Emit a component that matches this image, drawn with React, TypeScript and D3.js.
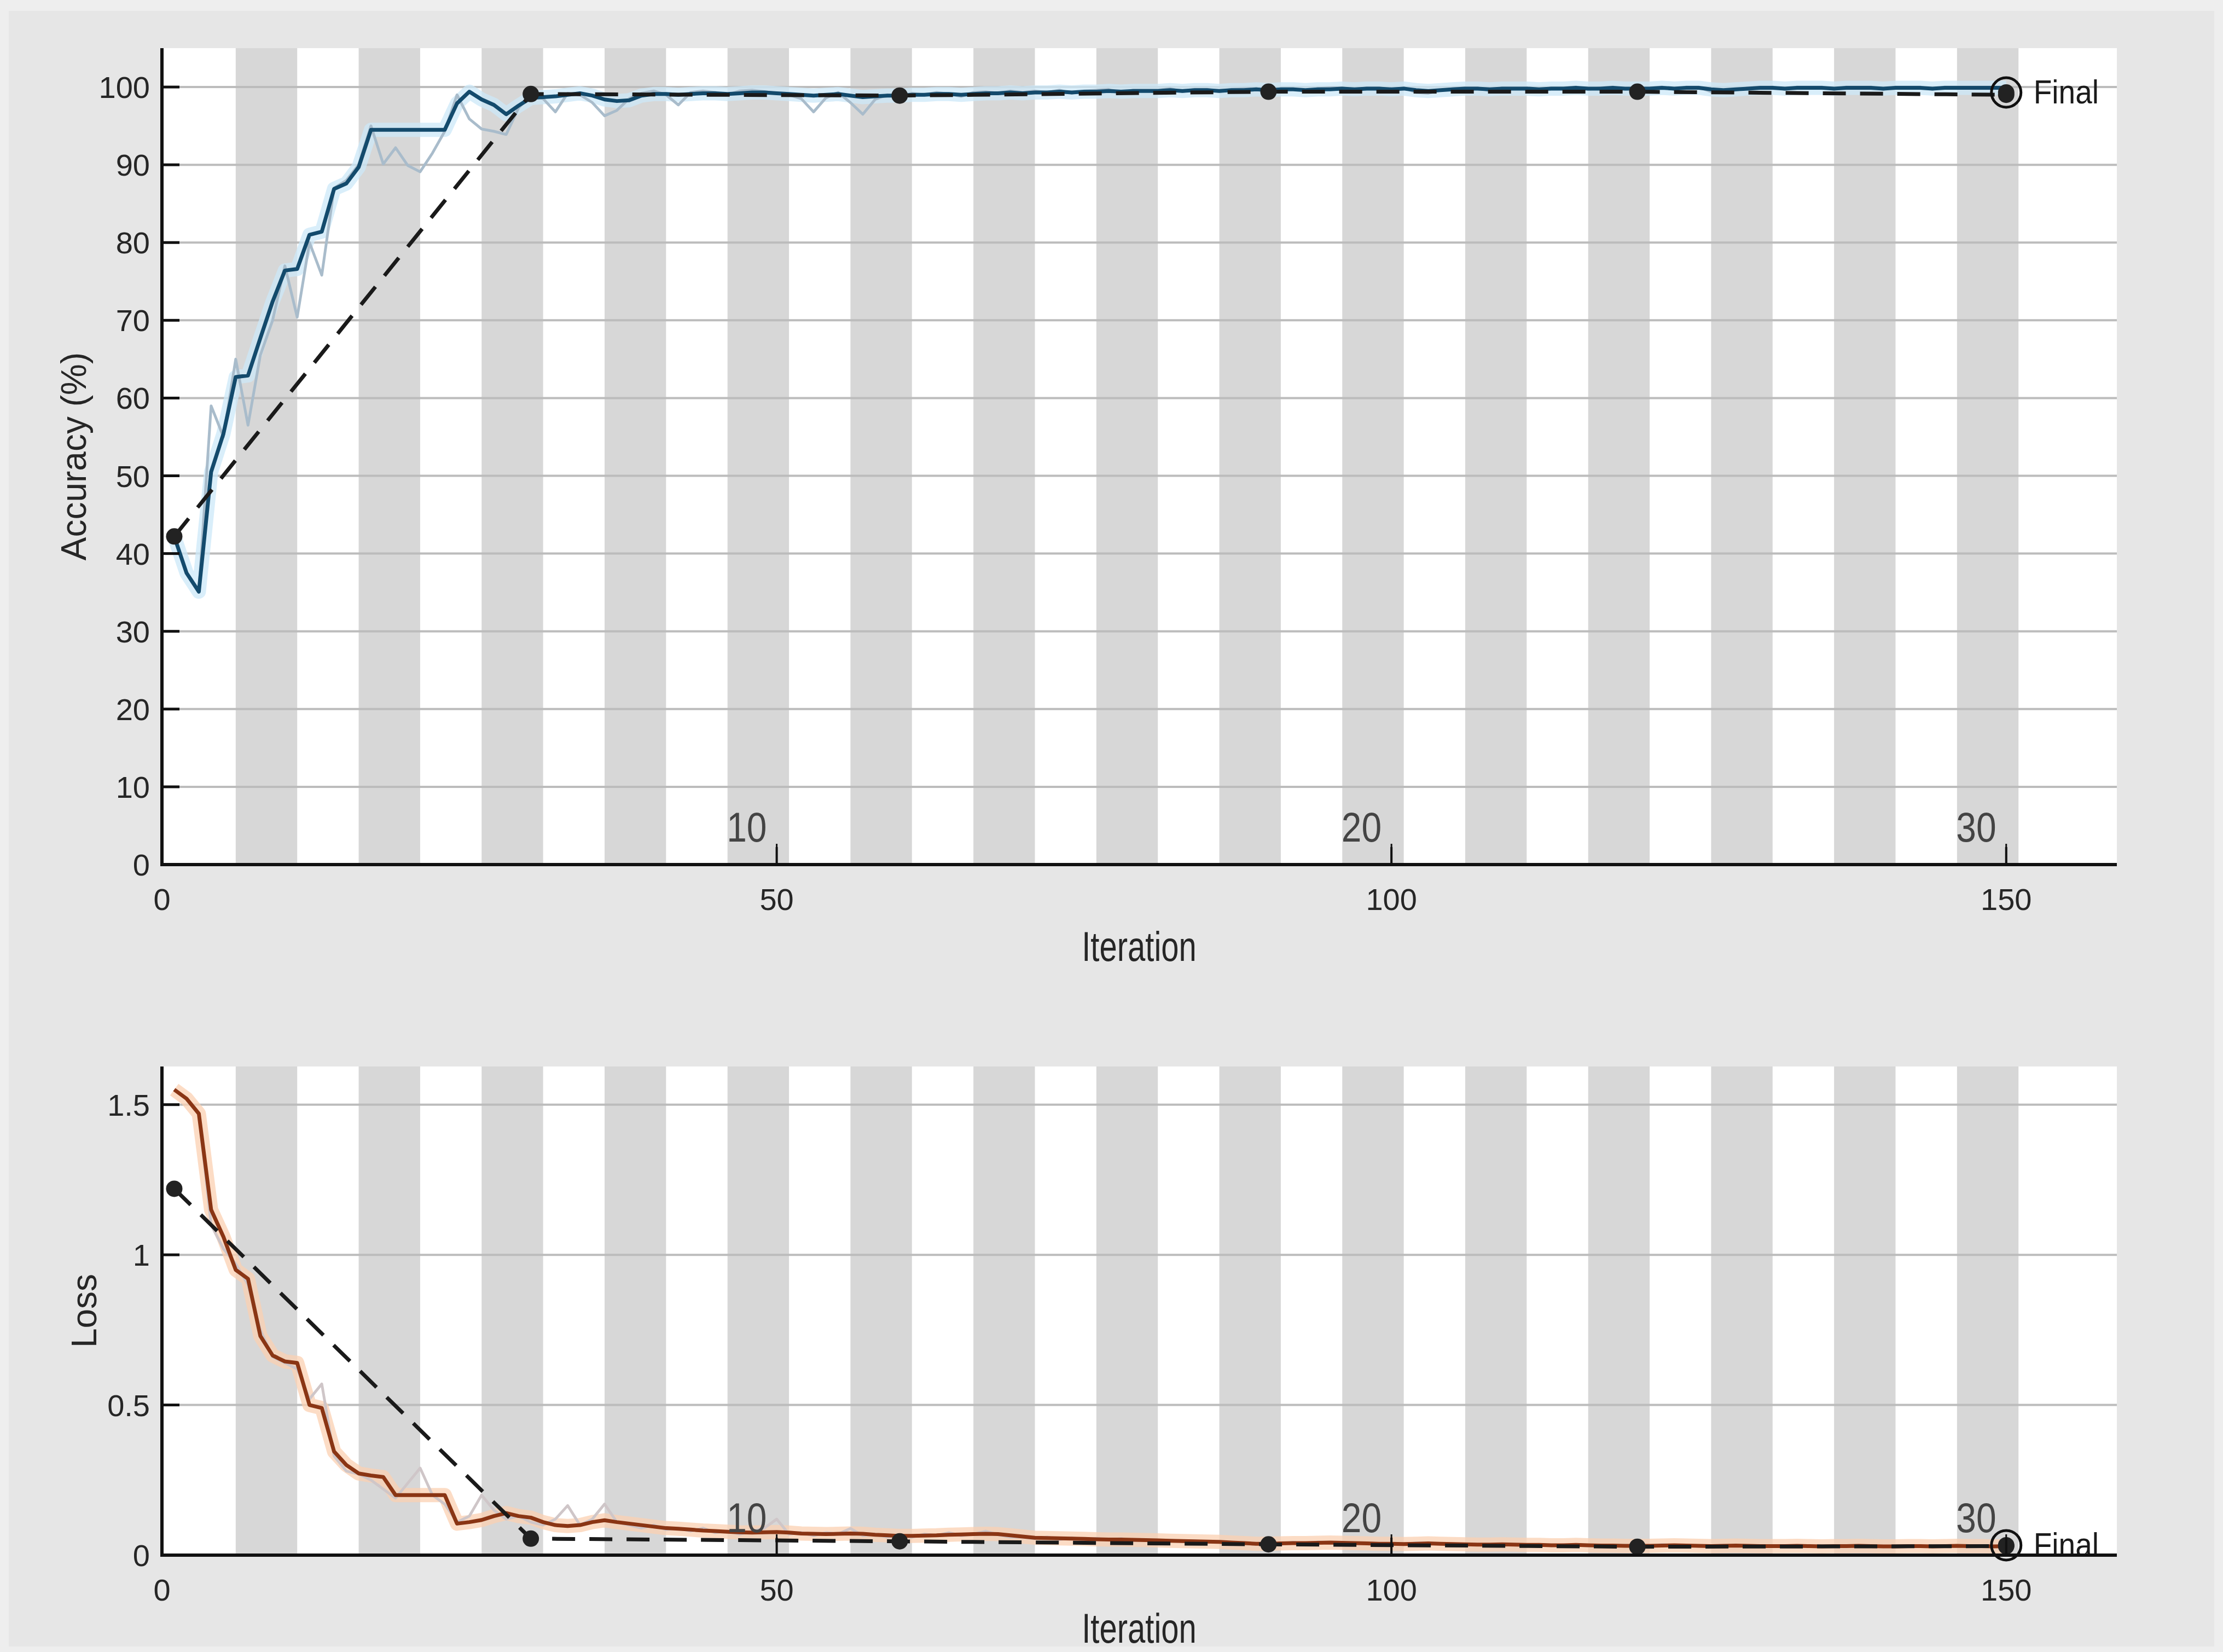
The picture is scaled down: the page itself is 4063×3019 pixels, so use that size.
import React from "react";
import * as d3 from "d3";

// ---- data ----
const iterations = d3.range(1, 151);
const itersPerEpoch = 5;
const numEpochs = 30;
const epochLabels = [10, 20, 30];
const xTicks = [0, 50, 100, 150];

const accSmooth = [
  42.2, 37.5, 35.1, 50.5, 55.4, 62.7, 62.9, 67.7, 72.4, 76.4,
  76.6, 81.0, 81.4, 86.9, 87.6, 89.7, 94.5, 94.5, 94.5, 94.5,
  94.5, 94.5, 94.5, 97.9, 99.4, 98.4, 97.7, 96.5, 97.6, 98.6,
  98.7, 98.8, 99.0, 99.2, 98.9, 98.4, 98.2, 98.3, 98.9, 99.1,
  99.1, 99.0, 99.1, 99.2, 99.2, 99.1, 99.2, 99.3, 99.3, 99.2,
  99.1, 99.0, 98.9, 99.0, 99.1, 98.9, 98.7, 98.8, 98.9, 98.9,
  99.0, 99.0, 99.1, 99.1, 99.0, 99.1, 99.2, 99.2, 99.3, 99.2,
  99.3, 99.3, 99.4, 99.3, 99.4, 99.4, 99.5, 99.4, 99.5, 99.5,
  99.5, 99.6, 99.5, 99.6, 99.6, 99.5, 99.6, 99.6, 99.7, 99.6,
  99.7, 99.7, 99.6, 99.7, 99.7, 99.8, 99.7, 99.8, 99.8, 99.7,
  99.8, 99.6, 99.5, 99.6, 99.7, 99.8, 99.8, 99.7, 99.8, 99.8,
  99.8, 99.7, 99.8, 99.8, 99.9, 99.8, 99.8, 99.9, 99.8, 99.8,
  99.8, 99.9, 99.8, 99.9, 99.9, 99.7, 99.6, 99.7, 99.8, 99.9,
  99.9, 99.8, 99.9, 99.9, 99.9, 99.8, 99.9, 99.9, 99.9, 99.8,
  99.9, 99.9, 99.9, 99.8, 99.9, 99.9, 99.9, 99.9, 99.9, 99.9,
];

const accRaw = [
  42.2, 37.5, 35.1, 59.0, 55.0, 65.0, 56.5, 65.5, 70.0, 77.0,
  70.4, 80.0, 75.8, 87.0, 88.0, 90.0, 95.0, 90.1, 92.2, 89.9,
  89.1, 91.5, 94.3, 99.0, 95.9, 94.6, 94.3, 93.9, 97.3, 99.0,
  98.5, 96.8, 99.2, 99.0, 98.0, 96.3, 97.0, 98.5, 99.2, 99.5,
  99.0, 97.7, 99.3, 99.5, 99.3, 99.0, 99.5, 99.6, 99.4, 99.2,
  99.0, 98.5, 96.8, 98.6, 99.3, 98.0, 96.5, 98.4, 99.0, 98.8,
  99.2, 99.0, 99.3, 99.1, 98.8, 99.3, 99.4, 99.2, 99.5, 99.3,
  99.5, 99.3, 99.6, 99.2, 99.5, 99.6, 99.7, 99.3, 99.6, 99.6,
  99.6, 99.8, 99.4, 99.7, 99.7, 99.4, 99.7, 99.8, 99.8, 99.5,
  99.8, 99.8, 99.5, 99.8, 99.9, 99.9, 99.6, 99.9, 99.9, 99.6,
  99.9, 99.3, 99.2, 99.6, 99.8, 99.9, 99.9, 99.5, 99.9, 99.9,
  99.9, 99.6, 99.9, 99.9, 100, 99.7, 99.9, 100, 99.7, 99.9,
  99.9, 100, 99.7, 100, 100, 99.4, 99.3, 99.6, 99.9, 100,
  100, 99.7, 100, 100, 100, 99.7, 100, 100, 100, 99.7,
  100, 100, 100, 99.7, 100, 100, 100, 100, 100, 100,
];

const lossSmooth = [
  1.55, 1.52, 1.47, 1.15, 1.06, 0.95, 0.92, 0.73, 0.665, 0.645,
  0.64, 0.50, 0.49, 0.345, 0.30, 0.272, 0.265, 0.26, 0.20, 0.20,
  0.20, 0.20, 0.20, 0.105, 0.11, 0.117, 0.13, 0.14, 0.13, 0.125,
  0.11, 0.10, 0.097, 0.10, 0.11, 0.116, 0.11, 0.105, 0.10, 0.095,
  0.09, 0.088, 0.085, 0.082, 0.08, 0.078, 0.076, 0.075, 0.076, 0.077,
  0.075, 0.072, 0.071, 0.07, 0.071, 0.072, 0.071, 0.068, 0.066, 0.064,
  0.064, 0.065, 0.066, 0.068, 0.069, 0.07, 0.071, 0.07, 0.066, 0.062,
  0.058, 0.057, 0.056, 0.055, 0.054, 0.053, 0.052, 0.052, 0.051, 0.05,
  0.049, 0.048, 0.047, 0.046, 0.045, 0.044, 0.042, 0.04, 0.038, 0.038,
  0.039, 0.04, 0.04, 0.041, 0.042, 0.041, 0.04, 0.039, 0.038, 0.038,
  0.037, 0.038, 0.039, 0.038, 0.037, 0.036, 0.035, 0.035, 0.036, 0.035,
  0.034, 0.034, 0.033, 0.033, 0.034, 0.033, 0.032, 0.032, 0.031, 0.031,
  0.031, 0.032, 0.033, 0.032, 0.031, 0.03, 0.031, 0.032, 0.031, 0.03,
  0.03, 0.03, 0.031, 0.03, 0.029, 0.03, 0.03, 0.031, 0.03, 0.029,
  0.029, 0.03, 0.03, 0.029, 0.03, 0.031, 0.03, 0.03, 0.029, 0.03,
];

const lossRaw = [
  1.55, 1.52, 1.47, 1.10, 1.02, 0.97, 0.90, 0.75, 0.66, 0.64,
  0.62, 0.52, 0.57, 0.33, 0.28, 0.27, 0.25, 0.22, 0.19, 0.24,
  0.29, 0.20, 0.17, 0.11, 0.13, 0.20, 0.15, 0.12, 0.13, 0.11,
  0.10, 0.12, 0.165, 0.10, 0.12, 0.17, 0.11, 0.10, 0.09, 0.10,
  0.085, 0.09, 0.08, 0.09, 0.075, 0.08, 0.07, 0.08, 0.09, 0.12,
  0.07, 0.075, 0.065, 0.075, 0.07, 0.089, 0.065, 0.07, 0.06, 0.065,
  0.06, 0.07, 0.065, 0.075, 0.065, 0.07, 0.08, 0.068, 0.06, 0.06,
  0.055, 0.06, 0.052, 0.058, 0.05, 0.056, 0.05, 0.055, 0.048, 0.052,
  0.046, 0.05, 0.045, 0.048, 0.042, 0.046, 0.04, 0.042, 0.036, 0.04,
  0.038, 0.043, 0.038, 0.044, 0.04, 0.043, 0.038, 0.041, 0.036, 0.04,
  0.035, 0.041, 0.04, 0.037, 0.036, 0.034, 0.036, 0.033, 0.038, 0.034,
  0.032, 0.036, 0.031, 0.035, 0.033, 0.031, 0.034, 0.03, 0.033, 0.03,
  0.03, 0.035, 0.032, 0.033, 0.029, 0.031, 0.033, 0.03, 0.03, 0.029,
  0.029, 0.032, 0.03, 0.029, 0.03, 0.028, 0.031, 0.03, 0.029, 0.028,
  0.03, 0.029, 0.031, 0.028, 0.031, 0.029, 0.03, 0.029, 0.03, 0.03,
];

const valIters = [1, 30, 60, 90, 120, 150];
const valAcc = [42.2, 99.1, 98.9, 99.4, 99.4, 99.0];
const valLoss = [1.22, 0.055, 0.046, 0.036, 0.028, 0.03];
const finalAcc = 99.3;
const finalLoss = 0.033;

const accTicks = d3.range(0, 101, 10);
const lossTicks = [0, 0.5, 1, 1.5];

const W = 4063;
const H = 3019;
const FONT = "'Liberation Sans', Arial, Helvetica, sans-serif";

const x = d3.scaleLinear().domain([0, 159]).range([296, 3869]);

type PanelProps = {
  top: number;
  bottom: number;
  yMax: number;
  ticks: number[];
  fmt: (v: number) => string;
  label: string;
  labelX: number;
  xLabelOffset: number;
  smooth: number[];
  raw: number[];
  val: number[];
  final: number;
  dark: string;
  halo: string;
  rawColor: string;
};

function SText({ x, y, sy = 1, children, ...rest }: any) {
  return (
    <text transform={`translate(${x},${y}) scale(1,${sy})`} fontFamily={FONT} {...rest}>
      {children}
    </text>
  );
}

function Panel(p: PanelProps) {
  const y = d3.scaleLinear().domain([0, p.yMax]).range([p.bottom, p.top]);
  const line = d3
    .line<number>()
    .x((_, i) => x(iterations[i]))
    .y((d) => y(d));
  const valLine = d3
    .line<number>()
    .x((_, i) => x(valIters[i]))
    .y((d) => y(d));

  // alternating epoch shading (even epochs grey)
  const stripes = d3
    .range(2, numEpochs + 1, 2)
    .map((e) => [(e - 1) * itersPerEpoch + 1, e * itersPerEpoch + 1]);

  const fx = x(150);
  const fy = y(p.final);

  return (
    <g>
      <rect x={x(0)} y={p.top} width={x(159) - x(0)} height={p.bottom - p.top} fill="#ffffff" />
      {stripes.map(([a, b]) => (
        <rect key={a} x={x(a)} y={p.top} width={x(b) - x(a)} height={p.bottom - p.top} fill="#d7d7d7" />
      ))}
      {p.ticks.map((t) => (
        <line key={t} x1={x(0)} x2={x(159)} y1={y(t)} y2={y(t)} stroke="#bcbcbc" strokeWidth={4} />
      ))}

      <path d={line(p.smooth) || ""} fill="none" stroke={p.halo} strokeWidth={26} strokeLinejoin="round" opacity={0.75} />
      <path d={line(p.raw) || ""} fill="none" stroke={p.rawColor} strokeWidth={5} strokeLinejoin="round" />
      <path d={line(p.smooth) || ""} fill="none" stroke={p.dark} strokeWidth={7} strokeLinejoin="round" />

      <path d={valLine(p.val) || ""} fill="none" stroke="#1a1a1a" strokeWidth={7} strokeDasharray="42 26" />
      {p.val.map((v, i) => (
        <circle key={i} cx={x(valIters[i])} cy={y(v)} r={15} fill="#222" />
      ))}

      <circle cx={fx} cy={fy} r={27} fill="none" stroke="#111" strokeWidth={5} />
      <circle cx={fx} cy={fy} r={15} fill="#222" />
      <SText x={fx + 50} y={fy + 20} sy={1.1} fontSize={55} fill="#1a1a1a">
        Final
      </SText>

      {/* epoch labels */}
      {epochLabels.map((e) => {
        const xi = x(e * itersPerEpoch);
        return (
          <g key={e}>
            <line x1={xi} x2={xi} y1={p.bottom} y2={p.bottom - 38} stroke="#111" strokeWidth={3} />
            <SText x={xi - 18} y={p.bottom - 42} sy={1.15} fontSize={66} fill="#444" textAnchor="end">
              {e}
            </SText>
          </g>
        );
      })}

      {/* axes */}
      <line x1={x(0)} x2={x(0)} y1={p.top} y2={p.bottom + 3} stroke="#111" strokeWidth={6} />
      <line x1={x(0) - 3} x2={x(159)} y1={p.bottom} y2={p.bottom} stroke="#111" strokeWidth={6} />
      {p.ticks.map((t) => (
        <g key={t}>
          <line x1={x(0)} x2={x(0) + 32} y1={y(t)} y2={y(t)} stroke="#111" strokeWidth={5} />
          <SText x={274} y={y(t) + 20} fontSize={56} fill="#262626" textAnchor="end">
            {p.fmt(t)}
          </SText>
        </g>
      ))}
      {xTicks.map((t) => (
        <g key={t}>
          <line x1={x(t)} x2={x(t)} y1={p.bottom} y2={p.bottom - 32} stroke="#111" strokeWidth={4} />
          <SText x={x(t)} y={p.bottom + 83} fontSize={56} fill="#262626" textAnchor="middle">
            {t}
          </SText>
        </g>
      ))}
      <SText x={2082} y={p.bottom + p.xLabelOffset} sy={1.3} fontSize={58} fill="#262626" textAnchor="middle">
        Iteration
      </SText>
      <text
        transform={`translate(${p.labelX},${(p.top + p.bottom) / 2}) rotate(-90)`}
        fontFamily={FONT}
        fontSize={64}
        fill="#262626"
        textAnchor="middle"
      >
        {p.label}
      </text>
    </g>
  );
}

export default function App() {
  return (
    <svg
      width={W}
      height={H}
      viewBox={`0 0 ${W} ${H}`}
      style={{ position: "absolute", left: 0, top: 0, display: "block" }}
    >
      <rect width={W} height={H} fill="#eeeeee" />
      <rect x={16} y={20} width={W - 32} height={H - 30} fill="#e6e6e6" />
      <Panel
        top={88}
        bottom={1580}
        yMax={105}
        ticks={accTicks}
        fmt={(v) => String(v)}
        label="Accuracy (%)"
        labelX={157}
        xLabelOffset={176}
        smooth={accSmooth}
        raw={accRaw}
        val={valAcc}
        final={finalAcc}
        dark="#134a6c"
        halo="#cce8f8"
        rawColor="#a9bccb"
      />
      <Panel
        top={1949}
        bottom={2842}
        yMax={1.627}
        ticks={lossTicks}
        fmt={(v) => String(v)}
        label="Loss"
        labelX={176}
        xLabelOffset={160}
        smooth={lossSmooth}
        raw={lossRaw}
        val={valLoss}
        final={finalLoss}
        dark="#8a3514"
        halo="#fbd0b2"
        rawColor="#cfc6c8"
      />
    </svg>
  );
}
